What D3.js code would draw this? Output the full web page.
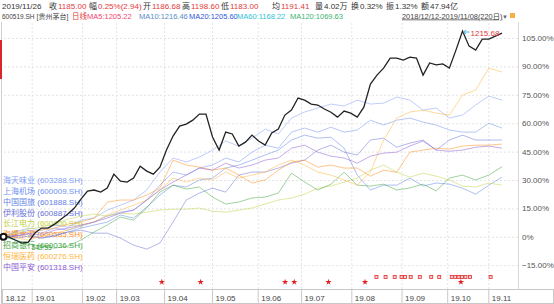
<!DOCTYPE html>
<meta charset="utf-8">
<script src="https://d3js.org/d3.v7.min.js"></script>
<style>
body { margin: 0; background: #fff; }
svg { display: block; font-family: "Liberation Sans", "Noto Sans CJK SC", sans-serif; }
.grid line { stroke: #e4e4e4; stroke-dasharray: 2px 2px; }
.grid text { fill: #555; font-size: 8px; }
.cmp { fill: none; stroke-width: 1; stroke-opacity: 0.5; }
.main { fill: none; stroke: #222; stroke-width: 1.3; }
</style>
<body></body>
<script>

// ---- data ----
var dayCount = 220;   // 2018/12/12 - 2019/11/08 trading days
var yTicks = [-15, 0, 15, 30, 45, 60, 75, 90, 105];
var monthDays = [0, 13, 35, 50, 71, 92, 112, 131, 153, 175, 195, 213];
var monthLabels = ['18.12', '19.01', '19.02', '19.03', '19.04', '19.05', '19.06', '19.07', '19.08', '19.09', '19.10', '19.11'];

// 600519.SH, % change since first day
var mainValues = [
  0, 0, -1.7, -3.3, -2.8, 2.0, 4.6, 4.6, 6.7, 9.4,
  12.0, 15.2, 19.9, 24.1, 24.7, 23.6, 25.7, 33.1, 29.4, 28.9,
  31.0, 37.3, 34.7, 33.1, 36.8, 45.8, 53.2, 58.5, 59.5, 61.6,
  64.8, 64.8, 52.7, 45.8, 55.3, 54.3, 47.9, 50.0, 53.7, 50.6,
  48.4, 54.8, 56.9, 64.3, 66.9, 73.3, 72.2, 70.1, 69.6, 67.5,
  65.8, 63.2, 66.4, 65.3, 63.2, 68.5, 80.7, 85.4, 89.1, 94.4,
  94.4, 93.3, 94.9, 94.4, 85.4, 91.8, 90.8, 91.3, 89.1, 98.6,
  108.7, 100.7, 98.6, 104.4, 104.4, 106.0, 107.6
];
var mainMaxLabel = '1215.68';
var mainMinLabel = '549.53';

var compNames = ['海天味业', '上海机场', '中国国旅', '伊利股份', '长江电力', '海螺水泥', '招商银行', '恒瑞医药', '中国平安'];
var compCodes = ['603288.SH', '600009.SH', '601888.SH', '600887.SH', '600900.SH', '600585.SH', '600036.SH', '600276.SH', '601318.SH'];
var compColors = ['#7f9cf5', '#6f8ff0', '#5f82e6', '#6670d8', '#c3d145', '#ff8c1a', '#3fa53f', '#ffb43a', '#8a5ad2'];

var haitian = [0, 2.6, 4.6, 3.5, 6.2, 5.1, 8.8, 9.9, 14.1, 16.7, 19.4, 24.7, 34.2, 41.6, 39.5, 42.1, 45.8, 50.6, 47.9, 52.1,
  56.9, 54.3, 62.7, 65.9, 68.0, 70.1, 69.1, 72.2, 70.1, 70.6, 73.8, 72.2, 66.9, 68.0, 62.7, 64.3, 69.6, 74.3, 72.2];
var shAirport = [0, 0.9, 3.5, 1.9, 4.6, 3.5, 5.6, 7.8, 10.9, 13.0, 14.1, 19.4, 27.3, 34.2, 32.6, 36.3, 37.9, 41.6, 39.5, 44.7,
  48.4, 46.8, 55.3, 57.4, 55.3, 57.9, 55.3, 56.4, 61.6, 59.0, 61.6, 62.7, 60.6, 59.0, 56.4, 55.3, 55.3, 60.0, 57.4];
var cits = [0, -0.7, 0.4, -0.7, 0.9, 2.5, 4.6, 6.2, 7.8, 11.5, 9.9, 15.7, 22.0, 27.3, 26.3, 30.0, 31.0, 36.3, 37.9, 40.5,
  43.2, 45.8, 51.1, 53.7, 52.1, 52.6, 46.8, 32.6, 24.7, 27.3, 27.3, 31.0, 26.8, 28.4, 27.8, 25.7, 22.5, 27.3, 31.5];
var yili = [0, 0.4, 1.4, -0.7, 0.4, 2.5, 3.5, 1.9, 1.9, -0.7, -4.4, -6.5, -3.3, 7.8, 19.4, 23.1, 25.7, 23.6, 32.6, 34.2,
  34.2, 36.3, 38.9, 40.5, 45.8, 48.4, 44.7, 43.2, 51.1, 52.1, 47.3, 49.5, 51.1, 45.8, 51.1, 53.7, 51.1, 51.1, 51.1];
var cypc = [0, 2.0, 4.1, 5.1, 6.7, 9.3, 10.9, 12.0, 10.9, 12.5, 12.0, 13.0, 14.1, 14.6, 14.6, 15.2, 13.5, 13.0, 14.1, 15.2,
  17.3, 19.4, 20.5, 22.5, 25.7, 26.8, 28.9, 31.0, 35.2, 37.9, 34.1, 31.5, 33.6, 32.0, 30.0, 26.8, 26.3, 28.4, 27.3];
var conch = [0, 1.4, 2.5, 3.5, 4.6, 6.7, 7.8, 9.9, 18.3, 19.4, 19.4, 22.0, 25.7, 40.5, 37.9, 36.8, 35.2, 36.3, 32.6, 28.4,
  30.0, 35.2, 39.5, 40.5, 36.8, 37.9, 36.3, 36.3, 32.0, 35.2, 34.1, 44.7, 45.8, 46.8, 46.3, 47.9, 48.4, 48.4, 49.0];
var cmb = [0, -1.6, -3.9, -4.9, -6.0, -4.9, -1.7, 2.5, 6.2, 10.4, 8.8, 15.2, 23.6, 27.3, 25.2, 26.3, 21.0, 17.3, 18.4, 20.5,
  21.0, 23.1, 33.6, 28.9, 24.7, 27.8, 34.1, 27.3, 26.8, 27.8, 24.7, 25.8, 27.8, 24.2, 31.0, 32.6, 30.0, 32.6, 37.0];
var hengrui = [0, -0.5, -1.7, 0.4, 1.9, 3.5, 6.2, 7.8, 11.5, 14.1, 16.7, 19.4, 24.7, 31.0, 28.9, 31.0, 30.0, 34.2, 31.0, 32.6,
  34.2, 37.9, 40.5, 37.9, 34.2, 32.6, 30.0, 27.3, 34.2, 51.1, 62.7, 65.9, 66.9, 65.3, 64.3, 74.9, 77.5, 89.1, 87.0];
var pingan = [0, 0.4, 1.9, 0.9, 3.5, 4.6, 6.2, 7.8, 9.9, 12.5, 14.1, 19.4, 24.7, 28.9, 32.6, 36.3, 35.2, 38.9, 36.3, 37.9,
  40.5, 41.6, 46.8, 48.4, 44.7, 42.6, 41.6, 38.9, 42.6, 44.2, 44.7, 47.9, 50.6, 45.8, 45.2, 45.8, 47.3, 47.9, 46.8];
var compValues = [haitian, shAirport, cits, yili, cypc, conch, cmb, hengrui, pingan];

// event markers (trading day index)
var starDays = [70, 87, 124, 128, 143, 159, 201];
var boxDays = [164, 168, 172, 175, 176.5, 179, 183, 188, 191.5, 197, 198.5, 200, 201.5, 203, 205, 214];

// quote header
var quoteDate = '2019/11/26';
var quoteLabels = ['收', '幅', '开', '高', '低', '均', '量', '换', '振', '额'];
var quoteValues = ['1185.00', '0.25%(2.94)', '1186.68', '1198.60', '1183.00', '1191.41', '4.02万', '0.32%', '1.32%', '47.94亿'];
var maLabels = ['MA5:1205.22', 'MA10:1216.46', 'MA20:1205.60', 'MA60:1168.22', 'MA120:1069.63'];
var rangeText = '2018/12/12-2019/11/08(220日)';

// ---- layout ----
var width = 554, height = 304;
var plotLeft = 2, plotRight = 518, plotTop = 22, plotBottom = 289;
var quoteX = [49, 89, 143, 182, 221, 272, 315, 351, 386, 421];
var quoteRed = [true, true, true, true, true, true, false, false, false, false];
var maX = [87, 139, 189, 237, 290];
var maColors = ['#f0466e', '#5a8bc5', '#2f55e0', '#2ec3d6', '#3cb371'];

var svg = d3.select('body').append('svg')
  .attr('width', width)
  .attr('height', height);

var xScale = d3.scaleLinear().domain([0, dayCount - 1]).range([2, 502]);
var yScale = d3.scaleLinear().domain([-15, 105]).range([265.2, 38]);

// horizontal grid + right labels
var yAxis = d3.axisRight(yScale)
  .tickValues(yTicks)
  .tickSize(-(plotRight - plotLeft))
  .tickPadding(4)
  .tickFormat(function(d) { return d === 0 ? '0%' : d3.format('.2f')(d) + '%'; });

svg.append('g')
  .attr('class', 'grid')
  .attr('transform', 'translate(' + plotRight + ',0)')
  .call(yAxis)
  .call(function(g) { g.select('.domain').remove(); });

// vertical grid at month starts
var xGrid = d3.axisBottom(xScale)
  .tickValues(monthDays.slice(1))
  .tickSize(-(plotBottom - plotTop))
  .tickFormat('');

svg.append('g')
  .attr('class', 'grid')
  .attr('transform', 'translate(0,' + plotBottom + ')')
  .call(xGrid)
  .call(function(g) { g.select('.domain').remove(); });

// frame lines
svg.append('line')
  .attr('x1', plotRight + 0.5).attr('x2', plotRight + 0.5)
  .attr('y1', plotTop).attr('y2', plotBottom)
  .style('stroke', '#d8d8d8');
svg.append('line')
  .attr('x1', 1.5).attr('x2', 1.5)
  .attr('y1', plotTop).attr('y2', plotBottom)
  .style('stroke', '#cfcfcf');
svg.append('rect')
  .attr('x', 0).attr('y', 40).attr('width', 2).attr('height', 39)
  .style('fill', '#d9262c');

// bottom month bar
svg.append('rect')
  .attr('x', 1.5).attr('y', plotBottom + 0.5)
  .attr('width', width - 2).attr('height', 14)
  .style('fill', 'none').style('stroke', '#c8c8c8');

var xAxis = d3.axisBottom(xScale)
  .tickValues(monthDays)
  .tickSize(14)
  .tickFormat(function(d, i) { return monthLabels[i]; });

svg.append('g')
  .attr('transform', 'translate(0,' + plotBottom + ')')
  .call(xAxis)
  .call(function(g) {
    g.select('.domain').remove();
    g.selectAll('line').style('stroke', '#c8c8c8');
    g.selectAll('text')
      .attr('x', 3).attr('y', 11.5).attr('dy', null)
      .style('text-anchor', 'start')
      .style('font-size', '8px')
      .style('fill', '#444');
  });

// legend (drawn under the lines)
var legend = svg.append('g');
legend.selectAll('text')
  .data(compNames)
  .enter().append('text')
  .attr('x', 3)
  .attr('y', function(d, i) { return 180 + i * 10.9; })
  .attr('dy', '0.35em')
  .style('font-size', '8px')
  .style('fill', function(d, i) { return compColors[i]; })
  .text(function(d, i) { return d + ' (' + compCodes[i] + ')'; });

// comparison lines
var line = d3.line()
  .x(function(d, i, arr) { return xScale(i * (dayCount - 1) / (arr.length - 1)); })
  .y(function(d) { return yScale(d); });

svg.selectAll('.cmp')
  .data(compValues)
  .enter().append('path')
  .attr('class', 'cmp')
  .style('stroke', function(d, i) { return compColors[i]; })
  .attr('d', function(d) { return line(d); });

// main line
svg.append('path')
  .attr('class', 'main')
  .attr('d', line(mainValues));

svg.append('circle')
  .attr('cx', xScale(0) + 1.5)
  .attr('cy', yScale(mainValues[0]))
  .attr('r', 3)
  .style('fill', '#fff')
  .style('stroke', '#111')
  .style('stroke-width', 2);

// max / min annotations
var maxIdx = d3.maxIndex(mainValues), minIdx = d3.minIndex(mainValues);
var px = xScale(maxIdx * (dayCount - 1) / (mainValues.length - 1)), py = yScale(mainValues[maxIdx]);
svg.append('path')
  .attr('d', 'M' + (px + 1) + ',' + (py + 1) + 'l6,0M' + (px + 1) + ',' + (py + 1) + 'l2.5,-2M' + (px + 1) + ',' + (py + 1) + 'l2.5,2')
  .style('stroke', '#4fb3e0').style('fill', 'none');
svg.append('text')
  .attr('x', px + 8).attr('y', py + 2).attr('dy', '0.35em')
  .style('font-size', '8px').style('fill', '#e4393c')
  .text(mainMaxLabel);

var mx = xScale(minIdx * (dayCount - 1) / (mainValues.length - 1)), my = yScale(mainValues[minIdx]);
svg.append('text')
  .attr('x', mx + 10).attr('y', my + 5).attr('dy', '0.35em')
  .style('font-size', '6.5px').style('fill', '#3a9a3a')
  .text(mainMinLabel);

// event markers
svg.selectAll('.star')
  .data(starDays)
  .enter().append('path')
  .attr('class', 'star')
  .attr('transform', function(d) { return 'translate(' + xScale(d) + ',282)'; })
  .attr('d', d3.symbol(d3.symbolStar, 12))
  .style('fill', '#e02020');

svg.selectAll('.box')
  .data(boxDays)
  .enter().append('rect')
  .attr('class', 'box')
  .attr('x', function(d) { return xScale(d) - 1.5; })
  .attr('y', 275.5)
  .attr('width', 3).attr('height', 3)
  .style('fill', '#fbd0d0')
  .style('stroke', '#e03030')
  .style('stroke-width', 0.8);

// header row 1
var head = svg.append('g').style('font-size', '8px');
head.append('text').attr('x', 2).attr('y', 9).style('fill', '#333').text(quoteDate);
quoteLabels.forEach(function(lab, i) {
  head.append('text').attr('x', quoteX[i]).attr('y', 9).style('fill', '#333').text(lab);
  head.append('text').attr('x', quoteX[i] + 9).attr('y', 9)
    .style('fill', quoteRed[i] ? '#e4393c' : '#333')
    .text(quoteValues[i]);
});

// header row 2
var row2 = svg.append('g').style('font-size', '7.5px');
row2.append('text').attr('x', 2).attr('y', 18.5).style('font-size', '6.5px')
  .style('fill', '#444').text('600519.SH');
row2.append('text').attr('x', 36.5).attr('y', 18.5).style('font-size', '7px')
  .style('fill', '#444').text('[贵州茅台]');
row2.append('text').attr('x', 72).attr('y', 18.5).style('fill', '#e4393c').text('日线');
row2.selectAll('.ma')
  .data(maLabels)
  .enter().append('text')
  .attr('class', 'ma')
  .attr('x', function(d, i) { return maX[i]; })
  .attr('y', 18.5)
  .style('fill', function(d, i) { return maColors[i]; })
  .text(function(d) { return d; });

row2.append('text')
  .attr('x', 402).attr('y', 18.5)
  .style('font-size', '7.4px')
  .style('fill', '#444')
  .style('text-decoration', 'underline')
  .text(rangeText);
row2.append('text').attr('x', 502).attr('y', 18.5).style('fill', '#666').style('font-size', '6px').text('▼');
row2.append('rect').attr('x', 510).attr('y', 13).attr('width', 5).attr('height', 5)
  .style('fill', '#f5b041');

</script>
